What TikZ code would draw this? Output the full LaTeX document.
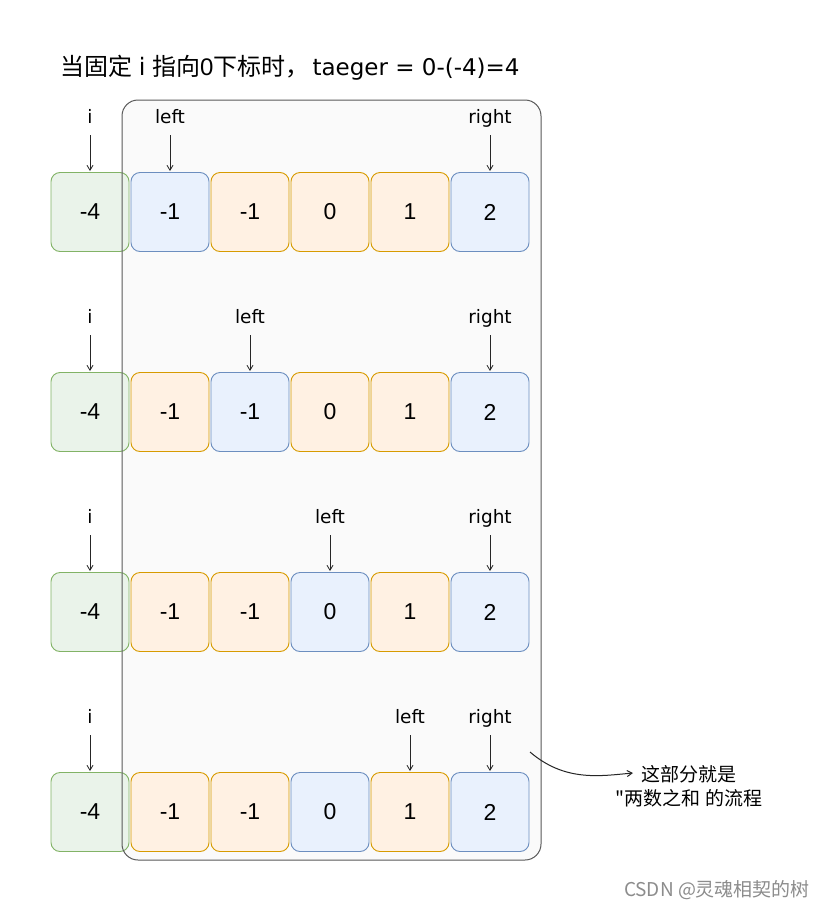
\documentclass[tikz,border=0pt]{standalone}
\usepackage{fontspec}
\setmainfont{Liberation Sans}
\newfontfamily\cjk{Noto Sans CJK SC}
\newfontfamily\hand{DejaVu Sans}
\usetikzlibrary{arrows.meta,patterns}
\definecolor{gstroke}{HTML}{82B366}
\definecolor{gfill}{HTML}{D5E8D4}
\definecolor{bstroke}{HTML}{6C8EBF}
\definecolor{bfill}{HTML}{DAE8FC}
\definecolor{ostroke}{HTML}{D79B00}
\definecolor{ofill}{HTML}{FFE6CC}
\begin{document}
\begin{tikzpicture}[x=1pt,y=-1pt,
  cell/.style={minimum width=78pt,minimum height=79pt,rounded corners=9pt,line width=0.9pt,font=\fontsize{23}{25}\selectfont,inner sep=0pt},
  gcell/.style={cell,draw=gstroke,fill=gfill!50},
  bcell/.style={cell,draw=bstroke,fill=bfill!60},
  ocell/.style={cell,draw=ostroke,fill=ofill!55},
  ptr/.style={font=\fontsize{18.5}{20}\selectfont\hand,inner sep=1pt},
  parrow/.style={-{Straight Barb[length=5pt,width=6pt]},line width=0.8pt,black!85},
  lbl/.style={inner sep=0pt}]
\useasboundingbox (0,0) rectangle (831,911);
\fill[white] (0,0) rectangle (831,911);
% big frame fill
\fill[black!2,rounded corners=16pt] (122,100) rectangle (541,860);
% title
\node[lbl,anchor=west,font=\fontsize{24}{26}\selectfont] (title) at (60,68) {{\cjk 当固定} {\hand i} {\cjk 指向}0{\cjk 下标时，}\hspace{3pt}{\fontsize{23}{25}\selectfont\hand taeger = 0-(-4)=4}};
% rows
\foreach \r/\y/\l/\ca/\cb/\cc/\cd/\ce in {1/212/170/bcell/ocell/ocell/ocell/bcell,
  2/412/250/ocell/bcell/ocell/ocell/bcell,
  3/612/330/ocell/ocell/bcell/ocell/bcell,
  4/812/410/ocell/ocell/bcell/ocell/bcell}{
  \node[gcell] (c\r a) at (90,\y) {-4};
  \node[\ca] (c\r b) at (170,\y) {-1};
  \node[\cb] (c\r c) at (250,\y) {-1};
  \node[\cc] (c\r d) at (330,\y) {0};
  \node[\cd] (c\r e) at (410,\y) {1};
  \node[\ce] (c\r f) at (490,\y) {2};
  \node[ptr,anchor=base] (i\r) at (90,\y-89) {i};
  \node[ptr,anchor=base] (l\r) at (\l,\y-89) {left};
  \node[ptr,anchor=base] (rt\r) at (490,\y-89) {right};
  \coordinate (ti\r) at (90,\y-41);
  \coordinate (tl\r) at (\l,\y-41);
  \coordinate (tr\r) at (490,\y-41);
  \coordinate (si\r) at (90,\y-77);
  \coordinate (sl\r) at (\l,\y-77);
  \coordinate (sr\r) at (490,\y-77);
  \draw[parrow] (si\r) -- (ti\r);
  \draw[parrow] (sl\r) -- (tl\r);
  \draw[parrow] (sr\r) -- (tr\r);
}
% big frame outline
\draw[black!65,line width=1pt,rounded corners=16pt] (122,100) rectangle (541,860);
% annotation
\node[lbl,font=\fontsize{19}{24}\selectfont\cjk,align=center] (note) at (689,786) {这部分就是\\"两数之和 的流程};
\coordinate (ns) at (530,752);
\coordinate (ne) at (633,773);
\draw[-{Straight Barb[length=5pt,width=6pt]},line width=1pt,black!85] (ns) .. controls (565,782) and (600,776) .. (ne);
% watermark
\node[lbl,font=\fontsize{19}{21}\selectfont\cjk,text=black!45] (wm) at (717,890) {CSDN @灵魂相契的树};
\end{tikzpicture}
\end{document}
